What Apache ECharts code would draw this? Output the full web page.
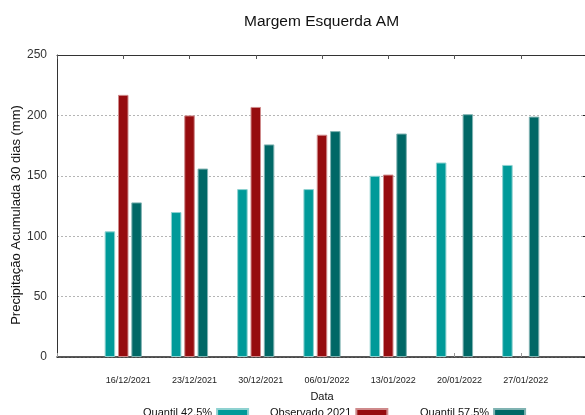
<!DOCTYPE html>
<html>
<head>
<meta charset="utf-8">
<script src="https://cdn.jsdelivr.net/npm/echarts@6/dist/echarts.min.js"></script>
<style>
  html, body { margin: 0; padding: 0; background: #fff; }
  #chart { width: 585px; height: 415px; }
</style>
</head>
<body>
<div id="chart"></div>
<script>
// datas (semanas) e valores
var datas = ['16/12/2021', '23/12/2021', '30/12/2021', '06/01/2022', '13/01/2022', '20/01/2022', '27/01/2022']
var quantil425 = [104, 120, 139, 139, 150, 161, 159]
var observado2021 = [217, 200, 207, 184, 151, null, null]
var quantil575 = [128, 156, 176, 187, 185, 201, 199]
var yTicks = [0, 50, 100, 150, 200, 250]

var fonte = '"Liberation Sans", Arial, sans-serif'

function pares(vals) {
  return vals.map(function (v, i) { return [i, v] })
}

var chart = echarts.init(document.getElementById('chart'))

var serieBase = {
  type: 'bar',
  barWidth: 10.5,
  barGap: '27%',
  animation: false
}

var legendaBase = {
  top: 402,
  align: 'right',
  icon: 'rect',
  itemWidth: 31,
  itemHeight: 7,
  textStyle: { fontFamily: fonte, fontSize: 11, color: '#111' }
}

chart.setOption({
  backgroundColor: '#fff',
  title: {
    text: 'Margem Esquerda AM',
    left: 239,
    top: 9,
    textStyle: { fontFamily: fonte, fontSize: 15.5, fontWeight: 'normal', color: '#111' }
  },
  grid: { left: 57, right: -2, top: 55, bottom: 58, containLabel: false, outerBoundsMode: 'none' },
  legend: [
    Object.assign({}, legendaBase, { data: ['Quantil 42.5%'], left: 138 }),
    Object.assign({}, legendaBase, { data: ['Observado 2021'], left: 265 }),
    Object.assign({}, legendaBase, { data: ['Quantil 57.5%'], left: 415 })
  ],
  xAxis: [
    {
      type: 'value',
      min: -1,
      max: 7,
      interval: 1,
      name: 'Data',
      nameLocation: 'middle',
      nameGap: 34,
      nameMoveOverlap: false,
      nameTextStyle: { fontFamily: fonte, fontSize: 11, color: '#111' },
      axisLine: { onZero: false, lineStyle: { color: '#222', width: 1.5 } },
      axisTick: { inside: true, length: 4, lineStyle: { color: '#999' } },
      axisLabel: {
        margin: 19,
        padding: [0, 0, 0, 10],
        fontFamily: fonte,
        fontSize: 9,
        color: '#222',
        formatter: function (v) { return datas[v] || '' }
      },
      splitLine: { show: false }
    },
    {
      type: 'value',
      position: 'top',
      min: -1,
      max: 7,
      interval: 1,
      axisLine: { show: true, onZero: false, lineStyle: { color: '#333', width: 1 } },
      axisTick: { show: true, inside: true, length: 4, lineStyle: { color: '#555' } },
      axisLabel: { show: false },
      splitLine: { show: false }
    }
  ],
  yAxis: [
    {
      type: 'value',
      min: 0,
      max: 250,
      interval: 50,
      name: 'Precipitação Acumulada 30 dias (mm)',
      nameLocation: 'middle',
      nameGap: 34,
      nameMoveOverlap: false,
      nameTextStyle: { fontFamily: fonte, fontSize: 13, color: '#111', padding: [0, 18, 0, 0] },
      axisLine: { show: true, onZero: false, lineStyle: { color: '#333', width: 1 } },
      axisTick: { show: false },
      axisLabel: {
        margin: 10,
        fontFamily: fonte,
        fontSize: 12,
        color: '#333',
        formatter: function (v) { return yTicks.indexOf(v) >= 0 ? String(v) : '' }
      },
      splitLine: {
        show: true,
        lineStyle: { color: '#b5b5b5', type: [2, 2], width: 1 }
      }
    },
    {
      type: 'value',
      position: 'right',
      min: 0,
      max: 250,
      interval: 50,
      axisLine: { show: true, onZero: false, lineStyle: { color: '#222' } },
      axisTick: { show: true, inside: true, length: 4, lineStyle: { color: '#222' } },
      axisLabel: { show: false },
      splitLine: { show: false }
    }
  ],
  series: [
    Object.assign({}, serieBase, {
      name: 'Quantil 42.5%',
      data: pares(quantil425),
      itemStyle: { color: '#009a99', borderColor: '#8fd2d1', borderWidth: 1 }
    }),
    Object.assign({}, serieBase, {
      name: 'Observado 2021',
      data: pares(observado2021),
      itemStyle: { color: '#960c0f', borderColor: '#cf8a8b', borderWidth: 1 }
    }),
    Object.assign({}, serieBase, {
      name: 'Quantil 57.5%',
      data: pares(quantil575),
      itemStyle: { color: '#006866', borderColor: '#80b3b2', borderWidth: 1 }
    })
  ]
})
</script>
</body>
</html>
